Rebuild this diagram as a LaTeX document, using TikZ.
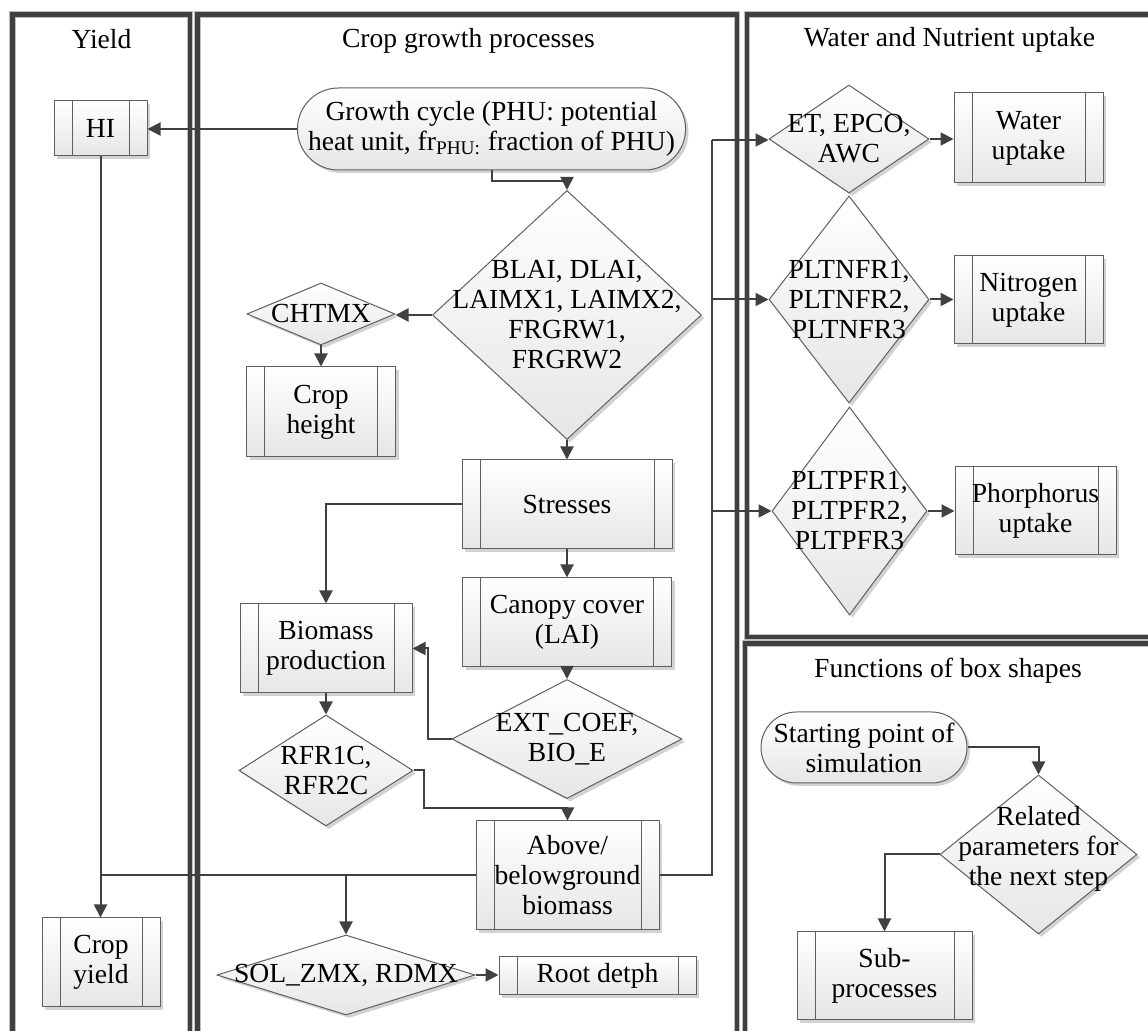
\documentclass[tikz,border=0pt]{standalone}
\usepackage{fontspec}
\setmainfont{Liberation Serif}
\usepackage{xcolor}
\usepackage{tikz}
\usetikzlibrary{arrows.meta,calc,positioning,shapes.geometric,shapes.misc,shadows}

\definecolor{lanecol}{HTML}{404040}
\definecolor{linecol}{HTML}{404040}
\definecolor{boxline}{HTML}{606060}
\definecolor{boxbot}{HTML}{E6E6E6}

\tikzset{
    px/.style 2 args={minimum width=#1*0.5pt,minimum height=#2*0.5pt},
    boxshadow/.style={drop shadow={shadow xshift=1.5pt,shadow yshift=-1.5pt,fill=black!35,opacity=.5}},
    proc/.style={rectangle,draw=boxline,line width=0.5pt,top color=white,bottom color=boxbot,boxshadow,
        inner sep=0pt,align=center,
        path picture={\draw[boxline,line width=0.5pt]
            ([xshift=9pt]path picture bounding box.north west) -- ([xshift=9pt]path picture bounding box.south west)
            ([xshift=-9pt]path picture bounding box.north east) -- ([xshift=-9pt]path picture bounding box.south east);}},
    dec/.style={diamond,draw=boxline,line width=0.5pt,top color=white,bottom color=boxbot,boxshadow,inner sep=0pt},
    term/.style={rounded rectangle,draw=boxline,line width=0.5pt,top color=white,bottom color=boxbot,boxshadow,
        inner sep=0pt,align=center},
    dtext/.style={align=center,inner sep=0pt},
    title/.style={anchor=base},
    lane/.style={draw=lanecol,line width=2.2pt,preaction={draw=black!25,line width=3.2pt}},
    line/.style={draw=linecol,line width=1pt},
    arr/.style={line,-{Triangle[length=6.5pt,width=6.5pt]}},
}

\begin{document}
\begin{tikzpicture}[x=0.5pt,y=-0.5pt,every node/.style={font=\fontsize{13.8}{15}\selectfont}]
    \useasboundingbox (0,0) rectangle (1148,1031);
    \draw[lane] (12.5,1031) -- (12.5,14.5) -- (190,14.5) -- (190,1031);
    \draw[lane] (197.5,1031) -- (197.5,14.5) -- (737,14.5) -- (737,1031);
    \draw[lane] (1148,14.5) -- (747,14.5) -- (747,637) -- (1148,637);
    \draw[lane] (1148,643.5) -- (745,643.5) -- (745,1031);

    \node[title] (yieldT) at (101.5,49) {Yield};
    \node[title] (cropT) at (468.5,48) {Crop growth processes};
    \node[title] (waterT) at (949.5,47) {Water and Nutrient uptake};
    \node[title] (funcT) at (948,678) {Functions of box shapes};

    \node[proc,px={93}{55}] (hi) at (100.5,128.5) {HI};
    \node[term,px={357}{82}] (grow) at (491.5,129) {Growth cycle (PHU: potential\\heat unit, fr\textsubscript{PHU:} fraction of PHU)};
    \node[dec,px={269}{249}] (blai) at (567,315) {};
    \node[dtext] (blaiT) at (blai) {BLAI, DLAI,\\LAIMX1, LAIMX2,\\FRGRW1,\\FRGRW2};
    \node[dec,px={148}{62}] (chtmx) at (321,314) {};
    \node[dtext] (chtmxT) at (chtmx) {CHTMX};
    \node[proc,px={149}{90}] (cropht) at (321,412) {Crop\\height};
    \node[proc,px={210}{89}] (stress) at (567,504.5) {Stresses};
    \node[proc,px={172}{89}] (biomass) at (326,648.5) {Biomass\\production};
    \node[proc,px={209}{89}] (canopy) at (567,622.5) {Canopy cover\\(LAI)};
    \node[dec,px={230}{119}] (ext) at (567,739) {};
    \node[dtext] (extT) at (ext) {EXT\_COEF,\\BIO\_E};
    \node[dec,px={174}{111}] (rfr) at (326,770.5) {};
    \node[dtext] (rfrT) at (rfr) {RFR1C,\\RFR2C};
    \node[proc,px={183}{109}] (above) at (567.5,875.5) {Above/\\belowground\\biomass};
    \node[proc,px={118}{89}] (cropyld) at (101,962.5) {Crop\\yield};
    \node[dec,px={258}{80}] (sol) at (346,975) {};
    \node[dtext] (solT) at (sol) {SOL\_ZMX, RDMX};
    \node[proc,px={197}{38}] (root) at (597.5,976) {Root detph};

    \node[dec,px={160}{108}] (et) at (849,139) {};
    \node[dtext] (etT) at (et) {ET, EPCO,\\AWC};
    \node[proc,px={149}{90}] (water) at (1028.5,138) {Water\\uptake};
    \node[dec,px={160}{207}] (pltn) at (849,299.5) {};
    \node[dtext] (pltnT) at (pltn) {PLTNFR1,\\PLTNFR2,\\PLTNFR3};
    \node[proc,px={149}{88}] (nitro) at (1028.5,300) {Nitrogen\\uptake};
    \node[dec,px={155}{208}] (pltp) at (849.5,511) {};
    \node[dtext] (pltpT) at (pltp) {PLTPFR1,\\PLTPFR2,\\PLTPFR3};
    \node[proc,px={161}{88}] (phos) at (1035.5,511) {Phorphorus\\uptake};

    \node[term,px={206}{71}] (start) at (864,747.5) {Starting point of\\simulation};
    \node[dec,px={197}{159}] (related) at (1038.5,854.5) {};
    \node[dtext] (relatedT) at ([yshift=3pt]related) {Related\\parameters for\\the next step};
    \node[proc,px={175}{88}] (sub) at (884.5,976) {Sub-\\processes};

    \draw[arr] (grow.west) -- (grow.west -| hi.east);
    \draw[arr] (grow.south) -- ++(0,11) -| (blai.north);
    \draw[arr] (blai.west) -- (blai.west -| chtmx.east);
    \draw[arr] (chtmx.south) -- (cropht.north);
    \draw[arr] (blai.south) -- (stress.north);
    \draw[arr] (stress.west) -| (biomass.north);
    \draw[arr] (stress.south) -- (canopy.north);
    \draw[arr] (canopy.south) -- (ext.north);
    \draw[arr] (ext.west) -- ++(-24,0) |- (biomass.east);
    \draw[arr] (biomass.south) -- (rfr.north);
    \coordinate (rfrturn) at ([yshift=6pt]above.north);
    \draw[arr] (rfr.east) -- ++(10,0) |- (rfrturn) -- (above.north);
    \coordinate (bus) at (712,140);
    \draw[line] (above.east) -| (bus);
    \draw[arr] (bus) -- (bus -| et.west);
    \draw[arr] (bus |- pltn.west) -- (pltn.west);
    \draw[arr] (bus |- pltp.west) -- (pltp.west);
    \draw[arr] (et.east) -- (et.east -| water.west);
    \draw[arr] (pltn.east) -- (pltn.east -| nitro.west);
    \draw[arr] (pltp.east) -- (pltp.east -| phos.west);
    \draw[line] (above.west) -- (above.west -| hi.south);
    \draw[arr] (hi.south) -- (hi.south |- cropyld.north);
    \draw[arr] (above.west -| sol.north) -- (sol.north);
    \draw[arr] (sol.east) -- (sol.east -| root.west);
    \draw[arr] (start.east) -| (related.north);
    \draw[arr] (related.west) -| (sub.north);
\end{tikzpicture}
\end{document}
